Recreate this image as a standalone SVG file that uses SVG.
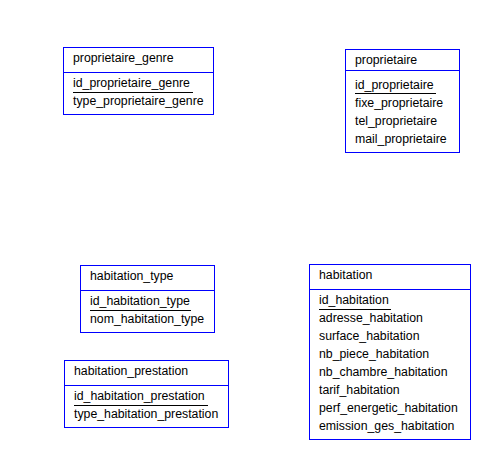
<svg xmlns="http://www.w3.org/2000/svg" width="500" height="470" viewBox="0 0 500 470">
<style>
.box{fill:#fff;stroke:#0000ff;stroke-width:1}
.div{stroke:#0000ff;stroke-width:1}
.ul{stroke:#000;stroke-width:1}
text{font-family:"Liberation Sans",Arial,sans-serif;font-size:12.3px;fill:#000}
</style>
<rect width="500" height="470" fill="#fff"/>
<g id="proprietaire_genre">
<rect class="box" x="63.5" y="47.5" width="150" height="67"/>
<line class="div" x1="63.5" y1="72.5" x2="213.5" y2="72.5"/>
<text x="73" y="62">proprietaire_genre</text>
<text x="73" y="87">id_proprietaire_genre</text>
<line class="ul" x1="73" y1="92.5" x2="193" y2="92.5"/>
<text x="73" y="105">type_proprietaire_genre</text>
</g>
<g id="proprietaire">
<rect class="box" x="345.5" y="49.5" width="114" height="103"/>
<line class="div" x1="345.5" y1="70.5" x2="459.5" y2="70.5"/>
<text x="355" y="64">proprietaire</text>
<text x="355" y="89">id_proprietaire</text>
<line class="ul" x1="355" y1="93.5" x2="436" y2="93.5"/>
<text x="355" y="107">fixe_proprietaire</text>
<text x="355" y="125">tel_proprietaire</text>
<text x="355" y="143">mail_proprietaire</text>
</g>
<g id="habitation_type">
<rect class="box" x="80.5" y="265.5" width="134" height="67"/>
<line class="div" x1="80.5" y1="290.5" x2="214.5" y2="290.5"/>
<text x="90" y="280">habitation_type</text>
<text x="90" y="305">id_habitation_type</text>
<line class="ul" x1="90" y1="310.5" x2="191" y2="310.5"/>
<text x="90" y="323">nom_habitation_type</text>
</g>
<g id="habitation_prestation">
<rect class="box" x="64.5" y="360.5" width="164" height="67"/>
<line class="div" x1="64.5" y1="385.5" x2="228.5" y2="385.5"/>
<text x="74" y="375">habitation_prestation</text>
<text x="74" y="400">id_habitation_prestation</text>
<line class="ul" x1="74" y1="405.5" x2="208" y2="405.5"/>
<text x="74" y="418">type_habitation_prestation</text>
</g>
<g id="habitation">
<rect class="box" x="309.5" y="264.5" width="161" height="175"/>
<line class="div" x1="309.5" y1="289.5" x2="470.5" y2="289.5"/>
<text x="319" y="279">habitation</text>
<text x="319" y="304">id_habitation</text>
<line class="ul" x1="319" y1="309.5" x2="391" y2="309.5"/>
<text x="319" y="322">adresse_habitation</text>
<text x="319" y="340">surface_habitation</text>
<text x="319" y="358">nb_piece_habitation</text>
<text x="319" y="376">nb_chambre_habitation</text>
<text x="319" y="394">tarif_habitation</text>
<text x="319" y="412">perf_energetic_habitation</text>
<text x="319" y="430">emission_ges_habitation</text>
</g>
<g id="connectors"></g>
</svg>
